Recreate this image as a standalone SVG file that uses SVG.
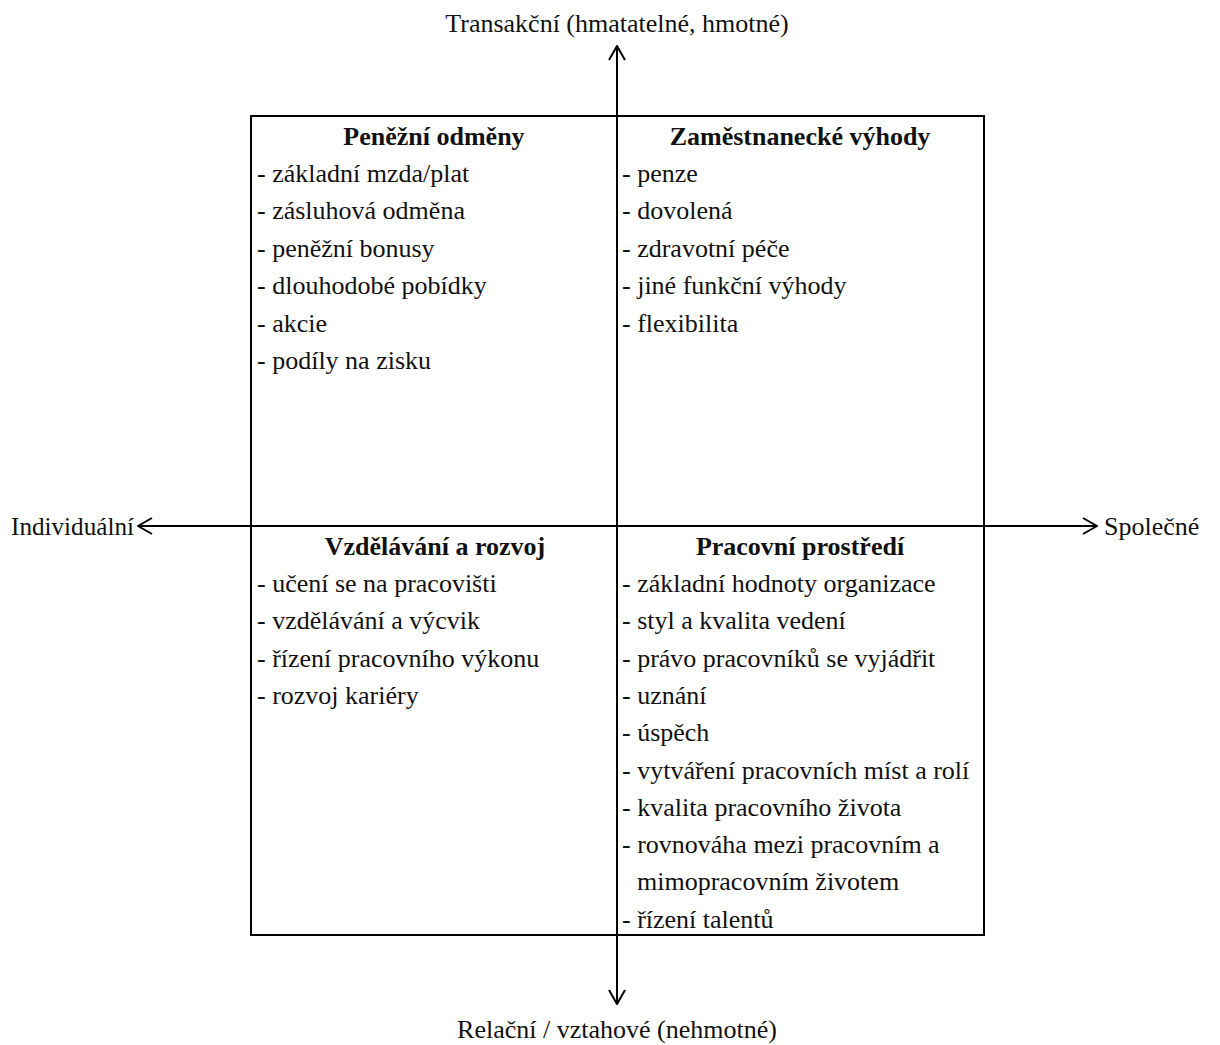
<svg xmlns="http://www.w3.org/2000/svg" width="1220" height="1045" viewBox="0 0 1220 1045">
<style>
text{font-family:"Liberation Serif","Times New Roman",serif;font-size:26px;fill:#111}
.t{font-weight:bold;text-anchor:middle}
.ax{text-anchor:middle}
.ln{stroke:#000;stroke-width:2;fill:none}
</style>
<defs>
<marker id="ah" viewBox="0 0 16 18" refX="15" refY="9" markerWidth="16" markerHeight="18" markerUnits="userSpaceOnUse" orient="auto">
<path d="M1,1 L15,9 L1,17" fill="none" stroke="#000" stroke-width="2"/>
</marker>
</defs>
<rect width="1220" height="1045" fill="#fff"/>
<g id="connectors">
<line class="ln" x1="617" y1="526" x2="617" y2="46" marker-end="url(#ah)"/>
<line class="ln" x1="617" y1="526" x2="617" y2="1004" marker-end="url(#ah)"/>
<line class="ln" x1="617" y1="526" x2="138" y2="526" marker-end="url(#ah)"/>
<line class="ln" x1="617" y1="526" x2="1097" y2="526" marker-end="url(#ah)"/>
</g>
<rect class="ln" x="251" y="116" width="733" height="819"/>
<g id="axis-top"><text class="ax" x="617" y="32">Transakční (hmatatelné, hmotné)</text></g>
<g id="axis-bottom"><text class="ax" x="617" y="1038">Relační / vztahové (nehmotné)</text></g>
<g id="axis-left"><text x="11" y="535" textLength="123" lengthAdjust="spacingAndGlyphs">Individuální</text></g>
<g id="axis-right"><text x="1104" y="535">Společné</text></g>
<g id="q1">
<text class="t" x="434" y="145">Peněžní odměny</text>
<text x="257" y="182">- základní mzda/plat</text>
<text x="257" y="219.4">- zásluhová odměna</text>
<text x="257" y="256.8">- peněžní bonusy</text>
<text x="257" y="294.2">- dlouhodobé pobídky</text>
<text x="257" y="331.6">- akcie</text>
<text x="257" y="369">- podíly na zisku</text>
</g>
<g id="q2">
<text class="t" x="800" y="145">Zaměstnanecké výhody</text>
<text x="622" y="182">- penze</text>
<text x="622" y="219.4">- dovolená</text>
<text x="622" y="256.8">- zdravotní péče</text>
<text x="622" y="294.2">- jiné funkční výhody</text>
<text x="622" y="331.6">- flexibilita</text>
</g>
<g id="q3">
<text class="t" x="435" y="555">Vzdělávání a rozvoj</text>
<text x="257" y="592">- učení se na pracovišti</text>
<text x="257" y="629.3">- vzdělávání a výcvik</text>
<text x="257" y="666.6">- řízení pracovního výkonu</text>
<text x="257" y="703.9">- rozvoj kariéry</text>
</g>
<g id="q4">
<text class="t" x="800" y="555">Pracovní prostředí</text>
<text x="622" y="592">- základní hodnoty organizace</text>
<text x="622" y="629.3">- styl a kvalita vedení</text>
<text x="622" y="666.6">- právo pracovníků se vyjádřit</text>
<text x="622" y="703.9">- uznání</text>
<text x="622" y="741.2">- úspěch</text>
<text x="622" y="778.5">- vytváření pracovních míst a rolí</text>
<text x="622" y="815.8">- kvalita pracovního života</text>
<text x="622" y="853.1">- rovnováha mezi pracovním a</text>
<text x="637" y="890.4">mimopracovním životem</text>
<text x="622" y="927.7">- řízení talentů</text>
</g>
</svg>
